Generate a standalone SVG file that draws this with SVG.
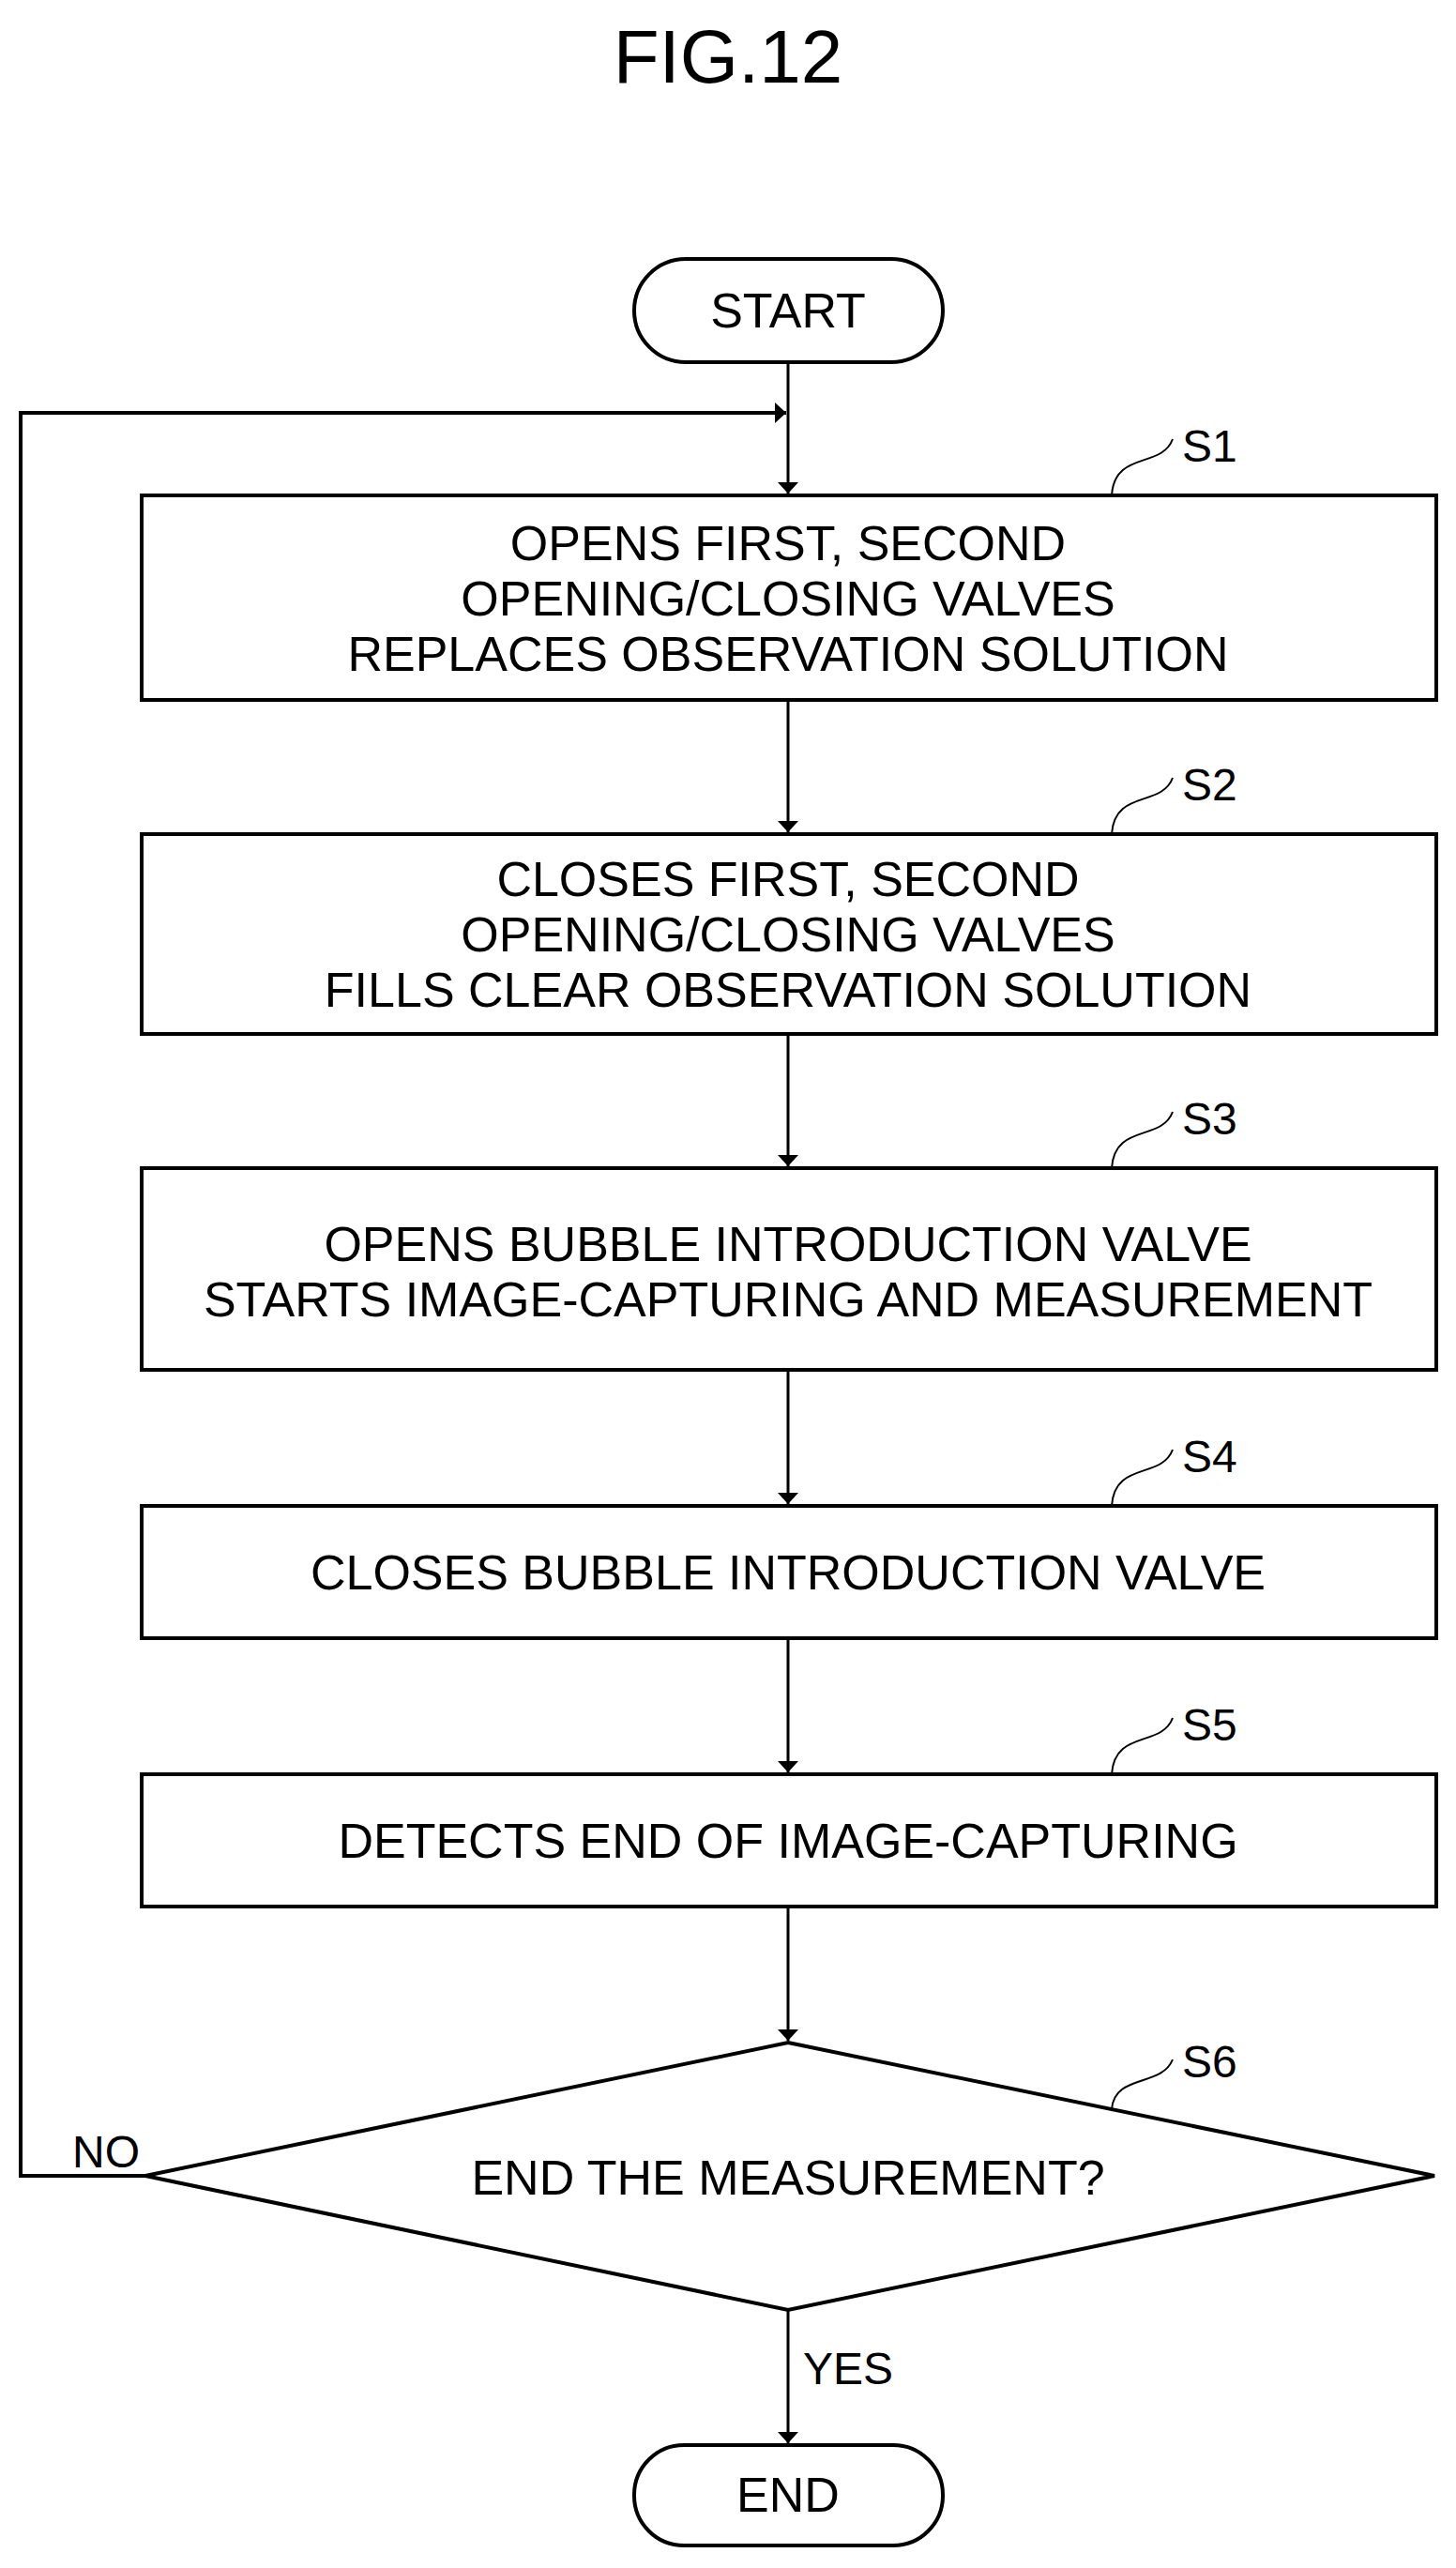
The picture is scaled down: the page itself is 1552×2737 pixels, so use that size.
<svg xmlns="http://www.w3.org/2000/svg" width="1552" height="2737" viewBox="0 0 1552 2737">
<style>
text{font-family:"Liberation Sans",Arial,sans-serif;fill:#000}
.t{font-size:52px;text-anchor:middle}
.l{font-size:48px}
.b{fill:#fff;stroke:#000;stroke-width:4}
.c{fill:none;stroke:#000;stroke-width:3}
.ld{fill:none;stroke:#000;stroke-width:2}
</style>
<defs><marker id="a" markerWidth="12" markerHeight="22" refX="12" refY="11" orient="auto" markerUnits="userSpaceOnUse"><path d="M0,0L12,11L0,22z"/></marker></defs>
<rect width="1552" height="2737" fill="#fff"/>
<text x="776" y="88" style="font-size:80px;text-anchor:middle">FIG.12</text>
<g id="connectors">
<path class="c" d="M840,386V526" marker-end="url(#a)"/>
<path class="c" d="M840,746V887" marker-end="url(#a)"/>
<path class="c" d="M840,1102V1243" marker-end="url(#a)"/>
<path class="c" d="M840,1460V1603" marker-end="url(#a)"/>
<path class="c" d="M840,1746V1889" marker-end="url(#a)"/>
<path class="c" d="M840,2032V2175" marker-end="url(#a)"/>
<path class="c" d="M840,2462V2604" marker-end="url(#a)"/>
<path class="c" style="stroke-width:4" d="M155,2319H22V440H838" marker-end="url(#a)"/>
<text class="l" x="77" y="2310">NO</text>
<text class="l" x="856" y="2541">YES</text>
</g>
<g id="start"><rect class="b" x="676" y="276" width="329" height="110" rx="55"/><text class="t" x="840" y="349">START</text></g>
<g id="s1"><rect class="b" x="151" y="528" width="1380" height="218"/>
<text class="t" x="840" y="597">OPENS FIRST, SECOND</text><text class="t" x="840" y="656">OPENING/CLOSING VALVES</text><text class="t" x="840" y="715">REPLACES OBSERVATION SOLUTION</text>
<path class="ld" d="M1185,528C1188,480 1238,500 1250,468"/><text class="l" x="1260" y="492">S1</text></g>
<g id="s2"><rect class="b" x="151" y="889" width="1380" height="213"/>
<text class="t" x="840" y="955">CLOSES FIRST, SECOND</text><text class="t" x="840" y="1014">OPENING/CLOSING VALVES</text><text class="t" x="840" y="1073">FILLS CLEAR OBSERVATION SOLUTION</text>
<path class="ld" d="M1185,889C1188,841 1238,861 1250,829"/><text class="l" x="1260" y="853">S2</text></g>
<g id="s3"><rect class="b" x="151" y="1245" width="1380" height="215"/>
<text class="t" x="840" y="1344">OPENS BUBBLE INTRODUCTION VALVE</text><text class="t" x="840" y="1403">STARTS IMAGE-CAPTURING AND MEASUREMENT</text>
<path class="ld" d="M1185,1245C1188,1197 1238,1217 1250,1185"/><text class="l" x="1260" y="1209">S3</text></g>
<g id="s4"><rect class="b" x="151" y="1605" width="1380" height="141"/>
<text class="t" x="840" y="1694">CLOSES BUBBLE INTRODUCTION VALVE</text>
<path class="ld" d="M1185,1605C1188,1557 1238,1577 1250,1545"/><text class="l" x="1260" y="1569">S4</text></g>
<g id="s5"><rect class="b" x="151" y="1891" width="1380" height="141"/>
<text class="t" x="840" y="1980">DETECTS END OF IMAGE-CAPTURING</text>
<path class="ld" d="M1185,1891C1188,1843 1238,1863 1250,1831"/><text class="l" x="1260" y="1855">S5</text></g>
<g id="s6"><path class="b" d="M840,2177L1529,2319L840,2462L155,2319z"/>
<text class="t" x="840" y="2339">END THE MEASUREMENT?</text>
<path class="ld" d="M1185,2248C1188,2210 1238,2225 1250,2195"/><text class="l" x="1260" y="2214">S6</text></g>
<g id="end"><rect class="b" x="676" y="2606" width="329" height="107" rx="53"/><text class="t" x="840" y="2677">END</text></g>
</svg>
